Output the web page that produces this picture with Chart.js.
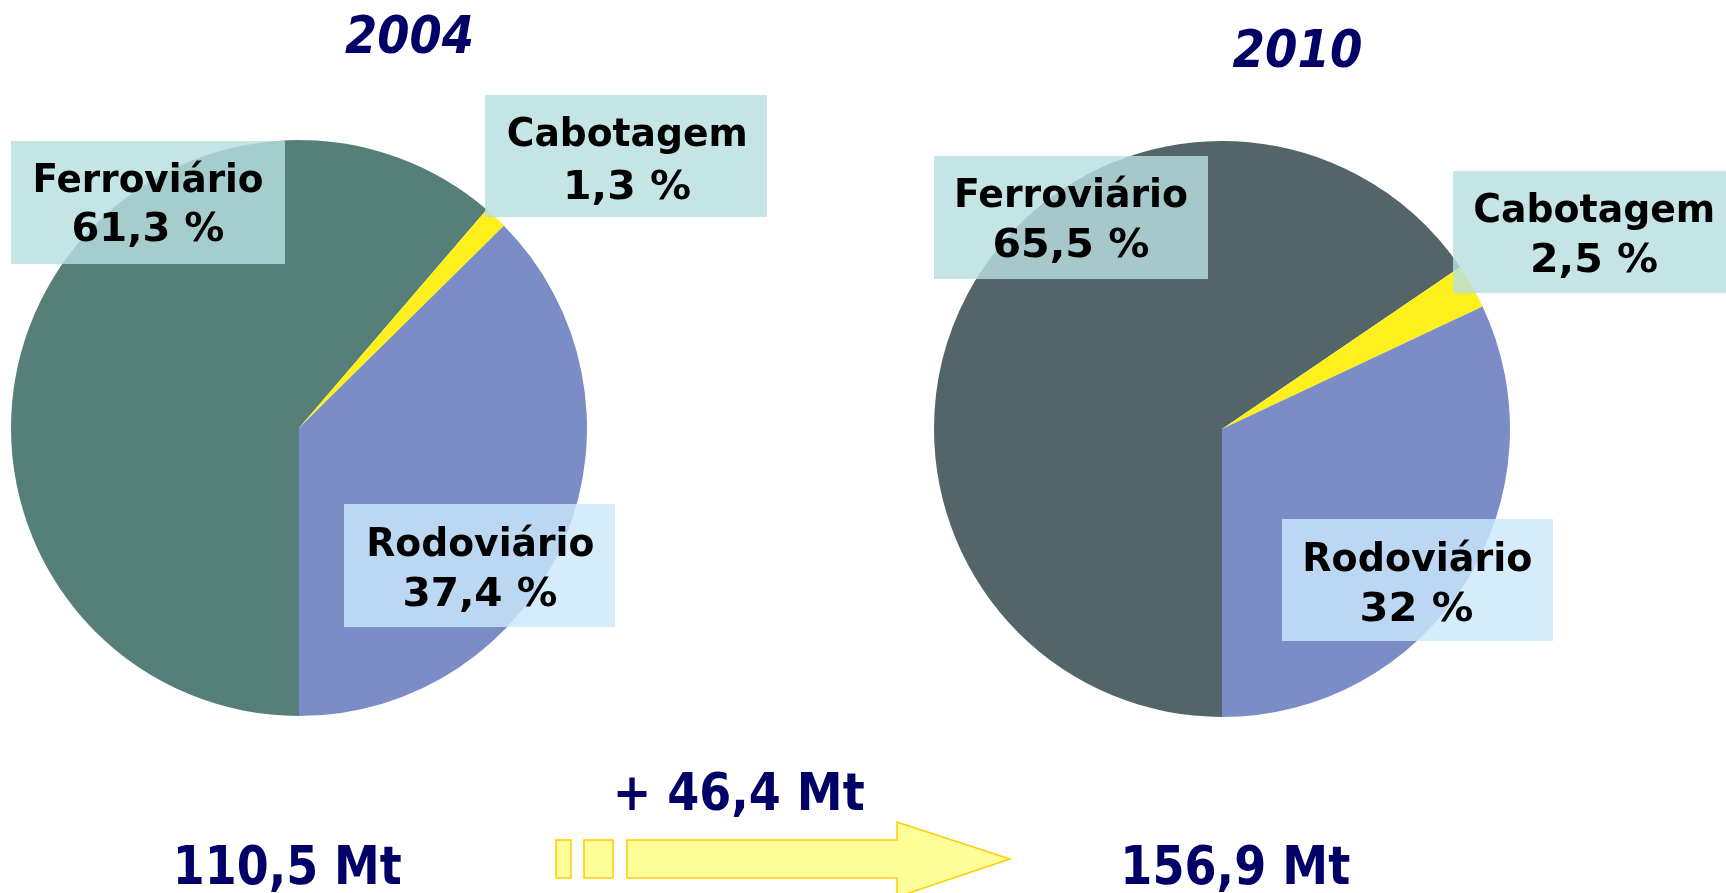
<!DOCTYPE html>
<html>
<head>
<meta charset="utf-8">
<script src="https://cdn.jsdelivr.net/npm/chart.js@4.4.1/dist/chart.umd.min.js"></script>
<style>
  html, body { margin: 0; padding: 0; background: #ffffff; }
  #stage { position: relative; width: 1726px; height: 893px; overflow: hidden; background: #ffffff; }
  canvas.pie { position: absolute; }
  .box { position: absolute; }
  .txt { position: absolute; white-space: nowrap; font-family: "DejaVu Sans", Verdana, sans-serif; font-weight: bold; transform-origin: 50% 50%; }
  svg { position: absolute; left: 0; top: 0; }
</style>
</head>
<body>
<div id="stage">
  <canvas id="pie2004" class="pie" width="580" height="580"></canvas>
  <canvas id="pie2010" class="pie" width="580" height="580"></canvas>
  <svg width="1726" height="893" id="arrow">
    <rect x="556" y="840" width="15" height="38" fill="#ffff99" stroke="#ffcc00" stroke-width="1.5"/>
    <rect x="584" y="840" width="29" height="38" fill="#ffff99" stroke="#ffcc00" stroke-width="1.5"/>
    <polygon points="627,840 897,840 897,822 1010,859 897,897 897,878 627,878" fill="#ffff99" stroke="#ffcc00" stroke-width="1.5" stroke-linejoin="miter"/>
  </svg>
</div>
<script>
// ---- data ----
const categories = ['Ferroviário', 'Cabotagem', 'Rodoviário'];
const years = ['2004', '2010'];
const share2004 = [61.3, 1.3, 37.4];
const share2010 = [65.5, 2.5, 32];
const totalsMt = [110.5, 156.9];
const increaseMt = [46.4];

// ---- styles ----
const sliceColors2004 = ['#577f7a', '#fdf01c', '#7b8cc7'];
const sliceColors2010 = ['#536569', '#fdf01c', '#7b8cc7'];
const navy = '#000066';

const fmt = v => String(v).replace('.', ',');

function makePie(id, left, top, values, colors) {
  const cv = document.getElementById(id);
  cv.style.left = left + 'px';
  cv.style.top = top + 'px';
  cv.style.width = '580px';
  cv.style.height = '580px';
  return new Chart(cv, {
    type: 'pie',
    data: {
      labels: categories,
      datasets: [{
        data: values,
        backgroundColor: colors,
        borderWidth: 0,
        hoverOffset: 0
      }]
    },
    options: {
      responsive: false,
      maintainAspectRatio: false,
      animation: false,
      events: [],
      rotation: 180,
      radius: 288,
      layout: { padding: 0 },
      plugins: { legend: { display: false }, tooltip: { enabled: false }, title: { display: false } }
    }
  });
}

makePie('pie2004', 299 - 290, 428 - 290, share2004, sliceColors2004);
makePie('pie2010', 1222 - 290, 429 - 290, share2010, sliceColors2010);

const stage = document.getElementById('stage');
const mctx = document.createElement('canvas').getContext('2d');

// place a text: centre x, baseline y, cap height, target width
function placeText(text, cx, baseline, capH, targetW, color, italic) {
  const size = capH / 0.729;
  const font = (italic ? 'italic ' : '') + 'bold ' + size + 'px "DejaVu Sans"';
  mctx.font = font;
  const w = mctx.measureText(text).width;
  const d = document.createElement('div');
  d.className = 'txt';
  d.textContent = text;
  d.style.fontSize = size + 'px';
  d.style.lineHeight = size + 'px';
  if (italic) d.style.fontStyle = 'italic';
  d.style.color = color;
  d.style.left = (cx - w / 2) + 'px';
  d.style.width = w + 'px';
  d.style.top = (baseline - 0.846 * size) + 'px';
  d.style.transform = 'scaleX(' + (targetW / w) + ')';
  stage.appendChild(d);
}

function placeBox(x, y, w, h, color) {
  const b = document.createElement('div');
  b.className = 'box';
  b.style.left = x + 'px'; b.style.top = y + 'px';
  b.style.width = w + 'px'; b.style.height = h + 'px';
  b.style.background = color;
  stage.appendChild(b);
}

const teal = 'rgba(184,222,224,0.82)';
const blue = 'rgba(202,232,251,0.82)';

// label boxes layout: [box x, y, w, h, colour, cx, baseline1, width1, baseline2, width2]
const layout2004 = [
  [11, 141, 274, 123, teal, 148, 193, 231, 242, 153],
  [485, 95, 282, 122, teal, 627, 147, 241, 200, 128],
  [344, 504, 271, 123, blue, 480, 557, 228, 607, 155]
];
const layout2010 = [
  [934, 156, 274, 123, teal, 1071, 208, 234, 258, 157],
  [1453, 171, 282, 122, teal, 1594, 223, 242, 273, 128],
  [1282, 519, 271, 122, blue, 1417, 572, 230, 622, 114]
];

function labels(values, lay) {
  values.forEach((v, i) => {
    const L = lay[i];
    placeBox(L[0], L[1], L[2], L[3], L[4]);
    placeText(categories[i], L[5], L[6], 29, L[7], '#000000', false);
    placeText(fmt(v) + ' %', L[5], L[8], 29, L[9], '#000000', false);
  });
}
labels(share2004, layout2004);
labels(share2010, layout2010);

// titles
placeText(years[0], 409.5, 53, 38, 129, navy, true);
placeText(years[1], 1298, 68, 37, 130, navy, true);

// totals
placeText(fmt(totalsMt[0]) + ' Mt', 287, 884, 39, 229, navy, false);
placeText(fmt(totalsMt[1]) + ' Mt', 1235, 884, 39, 230, navy, false);
placeText('+ ' + fmt(increaseMt[0]) + ' Mt', 739, 810, 38, 252, navy, false);
</script>
</body>
</html>
